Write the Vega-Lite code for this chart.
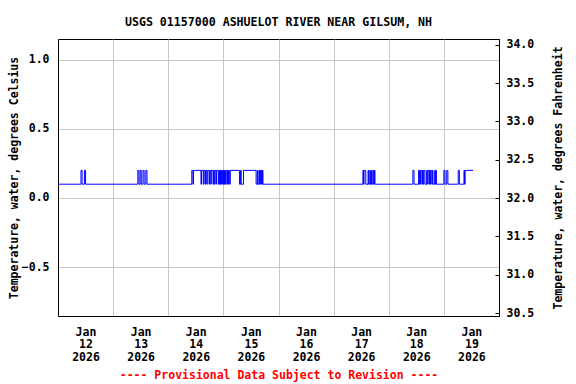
{
 "$schema": "https://vega.github.io/schema/vega-lite/v6.json",
 "width": 441, "height": 277,
 "autosize": {"type": "none"},
 "padding": {"left": 58, "top": 39, "right": 77, "bottom": 68},
 "background": "white",
 "title": {"text": "USGS 01157000 ASHUELOT RIVER NEAR GILSUM, NH", "font": "DejaVu Sans Mono", "fontSize": 11.6, "fontWeight": "bold", "color": "black", "anchor": "middle", "frame": "group", "offset": 1, "baseline": "alphabetic"},
 "config": {
  "view": {"stroke": "black", "strokeWidth": 1},
  "axis": {"labelFont": "DejaVu Sans Mono", "labelFontWeight": "bold", "labelFontSize": 11.5, "labelColor": "black", "titleFont": "DejaVu Sans Mono", "titleFontWeight": "bold", "titleFontSize": 11.5, "titleColor": "black", "domainColor": "black", "gridColor": "#c8c8c8", "gridOpacity": 1, "tickColor": "black"}
 },
 "data": {"values": [
  {"t":"2026-01-12T00:00","c":0.1,"f":32.18},
  {"t":"2026-01-12T10:00","c":0.2,"f":32.36},
  {"t":"2026-01-12T10:30","c":0.1,"f":32.18},
  {"t":"2026-01-12T11:30","c":0.2,"f":32.36},
  {"t":"2026-01-12T12:00","c":0.1,"f":32.18},
  {"t":"2026-01-13T10:45","c":0.2,"f":32.36},
  {"t":"2026-01-13T11:15","c":0.1,"f":32.18},
  {"t":"2026-01-13T11:45","c":0.2,"f":32.36},
  {"t":"2026-01-13T12:15","c":0.1,"f":32.18},
  {"t":"2026-01-13T13:00","c":0.2,"f":32.36},
  {"t":"2026-01-13T13:30","c":0.1,"f":32.18},
  {"t":"2026-01-13T14:15","c":0.2,"f":32.36},
  {"t":"2026-01-13T14:45","c":0.1,"f":32.18},
  {"t":"2026-01-14T10:15","c":0.2,"f":32.36},
  {"t":"2026-01-14T10:45","c":0.1,"f":32.18},
  {"t":"2026-01-14T11:00","c":0.2,"f":32.36},
  {"t":"2026-01-14T14:15","c":0.1,"f":32.18},
  {"t":"2026-01-14T14:30","c":0.2,"f":32.36},
  {"t":"2026-01-14T15:15","c":0.1,"f":32.18},
  {"t":"2026-01-14T15:30","c":0.2,"f":32.36},
  {"t":"2026-01-14T16:00","c":0.1,"f":32.18},
  {"t":"2026-01-14T16:15","c":0.2,"f":32.36},
  {"t":"2026-01-14T16:45","c":0.1,"f":32.18},
  {"t":"2026-01-14T17:00","c":0.2,"f":32.36},
  {"t":"2026-01-14T17:45","c":0.1,"f":32.18},
  {"t":"2026-01-14T18:00","c":0.2,"f":32.36},
  {"t":"2026-01-14T18:30","c":0.1,"f":32.18},
  {"t":"2026-01-14T18:45","c":0.2,"f":32.36},
  {"t":"2026-01-14T19:30","c":0.1,"f":32.18},
  {"t":"2026-01-14T19:45","c":0.2,"f":32.36},
  {"t":"2026-01-14T20:00","c":0.1,"f":32.18},
  {"t":"2026-01-14T20:15","c":0.2,"f":32.36},
  {"t":"2026-01-14T20:45","c":0.1,"f":32.18},
  {"t":"2026-01-14T21:00","c":0.2,"f":32.36},
  {"t":"2026-01-14T21:45","c":0.1,"f":32.18},
  {"t":"2026-01-14T22:00","c":0.2,"f":32.36},
  {"t":"2026-01-14T22:15","c":0.1,"f":32.18},
  {"t":"2026-01-14T22:30","c":0.2,"f":32.36},
  {"t":"2026-01-14T22:45","c":0.1,"f":32.18},
  {"t":"2026-01-14T23:00","c":0.2,"f":32.36},
  {"t":"2026-01-14T23:15","c":0.1,"f":32.18},
  {"t":"2026-01-14T23:30","c":0.2,"f":32.36},
  {"t":"2026-01-14T23:45","c":0.1,"f":32.18},
  {"t":"2026-01-15T00:00","c":0.2,"f":32.36},
  {"t":"2026-01-15T00:15","c":0.1,"f":32.18},
  {"t":"2026-01-15T00:30","c":0.2,"f":32.36},
  {"t":"2026-01-15T00:45","c":0.1,"f":32.18},
  {"t":"2026-01-15T01:00","c":0.2,"f":32.36},
  {"t":"2026-01-15T01:30","c":0.1,"f":32.18},
  {"t":"2026-01-15T01:45","c":0.2,"f":32.36},
  {"t":"2026-01-15T02:00","c":0.1,"f":32.18},
  {"t":"2026-01-15T02:15","c":0.2,"f":32.36},
  {"t":"2026-01-15T02:45","c":0.1,"f":32.18},
  {"t":"2026-01-15T03:00","c":0.2,"f":32.36},
  {"t":"2026-01-15T07:00","c":0.1,"f":32.18},
  {"t":"2026-01-15T07:30","c":0.2,"f":32.36},
  {"t":"2026-01-15T07:45","c":0.1,"f":32.18},
  {"t":"2026-01-15T08:45","c":0.2,"f":32.36},
  {"t":"2026-01-15T14:15","c":0.1,"f":32.18},
  {"t":"2026-01-15T14:45","c":0.2,"f":32.36},
  {"t":"2026-01-15T15:00","c":0.1,"f":32.18},
  {"t":"2026-01-15T15:30","c":0.2,"f":32.36},
  {"t":"2026-01-15T15:45","c":0.1,"f":32.18},
  {"t":"2026-01-15T16:00","c":0.2,"f":32.36},
  {"t":"2026-01-15T16:15","c":0.1,"f":32.18},
  {"t":"2026-01-15T16:30","c":0.2,"f":32.36},
  {"t":"2026-01-15T16:45","c":0.1,"f":32.18},
  {"t":"2026-01-15T17:00","c":0.2,"f":32.36},
  {"t":"2026-01-15T17:15","c":0.1,"f":32.18},
  {"t":"2026-01-17T12:45","c":0.2,"f":32.36},
  {"t":"2026-01-17T13:00","c":0.1,"f":32.18},
  {"t":"2026-01-17T13:15","c":0.2,"f":32.36},
  {"t":"2026-01-17T14:00","c":0.1,"f":32.18},
  {"t":"2026-01-17T15:00","c":0.2,"f":32.36},
  {"t":"2026-01-17T15:15","c":0.1,"f":32.18},
  {"t":"2026-01-17T15:45","c":0.2,"f":32.36},
  {"t":"2026-01-17T16:00","c":0.1,"f":32.18},
  {"t":"2026-01-17T16:30","c":0.2,"f":32.36},
  {"t":"2026-01-17T16:45","c":0.1,"f":32.18},
  {"t":"2026-01-17T17:15","c":0.2,"f":32.36},
  {"t":"2026-01-17T17:30","c":0.1,"f":32.18},
  {"t":"2026-01-17T17:45","c":0.2,"f":32.36},
  {"t":"2026-01-17T18:00","c":0.1,"f":32.18},
  {"t":"2026-01-18T10:30","c":0.2,"f":32.36},
  {"t":"2026-01-18T11:00","c":0.1,"f":32.18},
  {"t":"2026-01-18T13:00","c":0.2,"f":32.36},
  {"t":"2026-01-18T13:15","c":0.1,"f":32.18},
  {"t":"2026-01-18T13:30","c":0.2,"f":32.36},
  {"t":"2026-01-18T13:45","c":0.1,"f":32.18},
  {"t":"2026-01-18T14:00","c":0.2,"f":32.36},
  {"t":"2026-01-18T14:30","c":0.1,"f":32.18},
  {"t":"2026-01-18T14:45","c":0.2,"f":32.36},
  {"t":"2026-01-18T15:00","c":0.1,"f":32.18},
  {"t":"2026-01-18T15:15","c":0.2,"f":32.36},
  {"t":"2026-01-18T15:45","c":0.1,"f":32.18},
  {"t":"2026-01-18T16:30","c":0.2,"f":32.36},
  {"t":"2026-01-18T16:45","c":0.1,"f":32.18},
  {"t":"2026-01-18T17:00","c":0.2,"f":32.36},
  {"t":"2026-01-18T17:30","c":0.1,"f":32.18},
  {"t":"2026-01-18T17:45","c":0.2,"f":32.36},
  {"t":"2026-01-18T18:00","c":0.1,"f":32.18},
  {"t":"2026-01-18T18:15","c":0.2,"f":32.36},
  {"t":"2026-01-18T18:45","c":0.1,"f":32.18},
  {"t":"2026-01-18T19:00","c":0.2,"f":32.36},
  {"t":"2026-01-18T19:15","c":0.1,"f":32.18},
  {"t":"2026-01-18T20:00","c":0.2,"f":32.36},
  {"t":"2026-01-18T20:15","c":0.1,"f":32.18},
  {"t":"2026-01-18T20:30","c":0.2,"f":32.36},
  {"t":"2026-01-18T20:45","c":0.1,"f":32.18},
  {"t":"2026-01-19T00:00","c":0.2,"f":32.36},
  {"t":"2026-01-19T00:30","c":0.1,"f":32.18},
  {"t":"2026-01-19T01:15","c":0.2,"f":32.36},
  {"t":"2026-01-19T01:45","c":0.1,"f":32.18},
  {"t":"2026-01-19T06:15","c":0.2,"f":32.36},
  {"t":"2026-01-19T06:45","c":0.1,"f":32.18},
  {"t":"2026-01-19T08:45","c":0.2,"f":32.36},
  {"t":"2026-01-19T09:00","c":0.1,"f":32.18},
  {"t":"2026-01-19T09:15","c":0.2,"f":32.36},
  {"t":"2026-01-19T12:45","c":0.2,"f":32.36}
 ]},
 "layer": [
  {
   "mark": {"type": "line", "interpolate": "step-after", "color": "#0000ff", "strokeWidth": 1},
   "encoding": {
    "x": {"field": "t", "type": "temporal",
     "scale": {"domain": [{"year": 2026, "month": 1, "date": 12}, {"year": 2026, "month": 1, "date": 20}]},
     "axis": {
      "values": [{"year": 2026, "month": 1, "date": 12}, {"year": 2026, "month": 1, "date": 13}, {"year": 2026, "month": 1, "date": 14}, {"year": 2026, "month": 1, "date": 15}, {"year": 2026, "month": 1, "date": 16}, {"year": 2026, "month": 1, "date": 17}, {"year": 2026, "month": 1, "date": 18}, {"year": 2026, "month": 1, "date": 19}],
      "labelExpr": "[timeFormat(datum.value, '%b'), timeFormat(datum.value, '%-d'), timeFormat(datum.value, '%Y')]",
      "labelOffset": 27.5, "ticks": false, "grid": true, "labelPadding": 10, "labelLineHeight": 12.5,
      "labelOverlap": false, "labelFlush": false,
      "title": "---- Provisional Data Subject to Revision ----", "titleColor": "#ff0000",
      "titleX": 220.5, "titleY": 59, "titleBaseline": "middle", "titleAlign": "center"
     }},
    "y": {"field": "c", "type": "quantitative",
     "scale": {"domain": [-0.855, 1.152], "nice": false, "zero": false},
     "axis": {"values": [-0.5, 0, 0.5, 1], "format": ".1f", "ticks": false, "labelPadding": 9, "grid": true,
      "title": "Temperature, water, degrees Celsius", "titleX": -44, "titleY": 138.5, "titleAngle": -90, "titleBaseline": "middle", "titleAlign": "center"}}
   }
  },
  {
   "mark": {"type": "line", "interpolate": "step-after", "opacity": 0},
   "encoding": {
    "x": {"field": "t", "type": "temporal"},
    "y": {"field": "f", "type": "quantitative",
     "scale": {"domain": [30.461, 34.074], "nice": false, "zero": false},
     "axis": {"orient": "right", "values": [30.5, 31, 31.5, 32, 32.5, 33, 33.5, 34], "format": ".1f", "grid": false, "tickSize": -4, "labelPadding": 11,
      "title": "Temperature, water, degrees Fahrenheit", "titleX": 59, "titleY": 138.5, "titleAngle": -90, "titleBaseline": "middle", "titleAlign": "center"}}
   }
  }
 ],
 "resolve": {"scale": {"y": "independent"}, "axis": {"y": "independent"}}
}
